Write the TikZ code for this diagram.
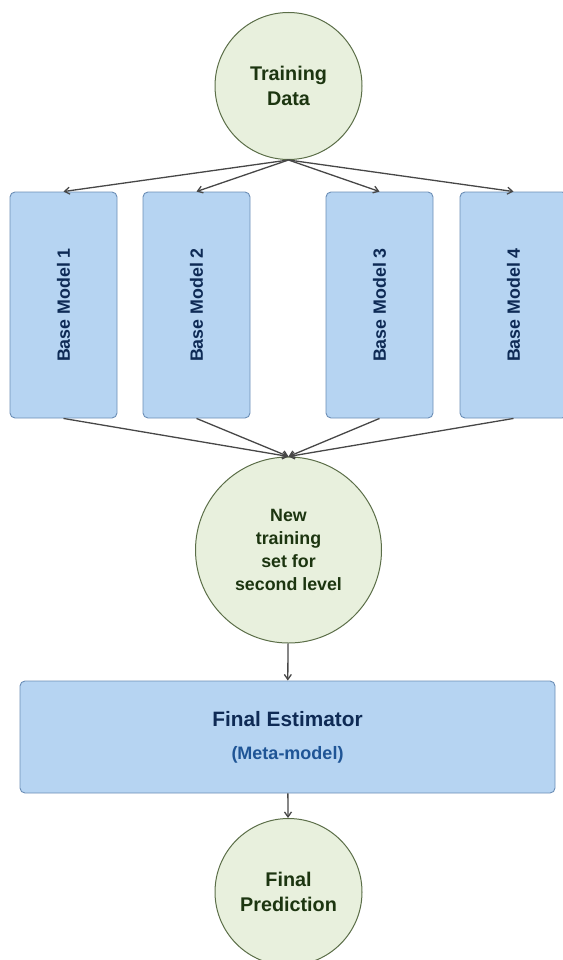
\documentclass[tikz,border=0pt]{standalone}
\usepackage{fontspec,graphicx}
\setmainfont{Liberation Sans}
\usetikzlibrary{arrows.meta}
\definecolor{leafgreen}{HTML}{E8F0DD}
\definecolor{leafdark}{HTML}{5B6E48}
\definecolor{leaftext}{HTML}{1C3510}
\definecolor{skyblue}{HTML}{B6D4F2}
\definecolor{skyedge}{HTML}{6C8EB6}
\definecolor{navytext}{HTML}{0E2A55}
\definecolor{metablue}{HTML}{1F5596}

\begin{document}
\begin{tikzpicture}[
		x=1pt, y=1pt,
		stage/.style={circle, draw=leafdark, line width=1pt, fill=leafgreen, inner sep=0pt, align=center, text=leaftext, font=\bfseries\fontsize{19.8}{25}\selectfont},
		model/.style={rectangle, draw=skyedge, line width=0.9pt, fill=skyblue, rounded corners=5pt, minimum width=107pt, minimum height=226pt, text=navytext, font=\bfseries\fontsize{17.8}{21}\selectfont},
		arrow/.style={line width=1.3pt, draw=black!72, ->, >={Straight Barb[length=5pt, width=7pt]}}
		]
		\useasboundingbox (0,0) rectangle (562,-960);
		
		\node (train) at (288.5, -86) [stage, minimum size=147pt] {Training\\Data};
		\node (bm1) at (63.5, -305) [model] {\rotatebox{90}{Base Model 1}};
		\node (bm2) at (196.5, -305) [model] {\rotatebox{90}{Base Model 2}};
		\node (bm3) at (379.5, -305) [model] {\rotatebox{90}{Base Model 3}};
		\node (bm4) at (513.5, -305) [model] {\rotatebox{90}{Base Model 4}};
		\node (newset) at (288.5, -550) [stage, minimum size=186pt, font=\bfseries\fontsize{17.8}{22.7}\selectfont] {New\\training\\set for\\second level};
		\node (meta) at (287.5, -737) [model, minimum width=535pt, minimum height=112pt, align=center, font=\bfseries\fontsize{20.8}{24}\selectfont] {Final Estimator\\[9pt]{\color{metablue}\fontsize{18}{20}\selectfont(Meta-model)}};
		\node (pred) at (288.5, -892) [stage, minimum size=147pt] {Final\\Prediction};
		
		\foreach \m in {bm1,bm2,bm3,bm4}{
			\draw [arrow] (train.south) -- (\m.north);
			\draw [arrow] (\m.south) -- (newset.north);
		}
		\draw [arrow] (newset) -- (meta);
		\draw [arrow] (meta) -- (pred);
	\end{tikzpicture}
\end{document}
